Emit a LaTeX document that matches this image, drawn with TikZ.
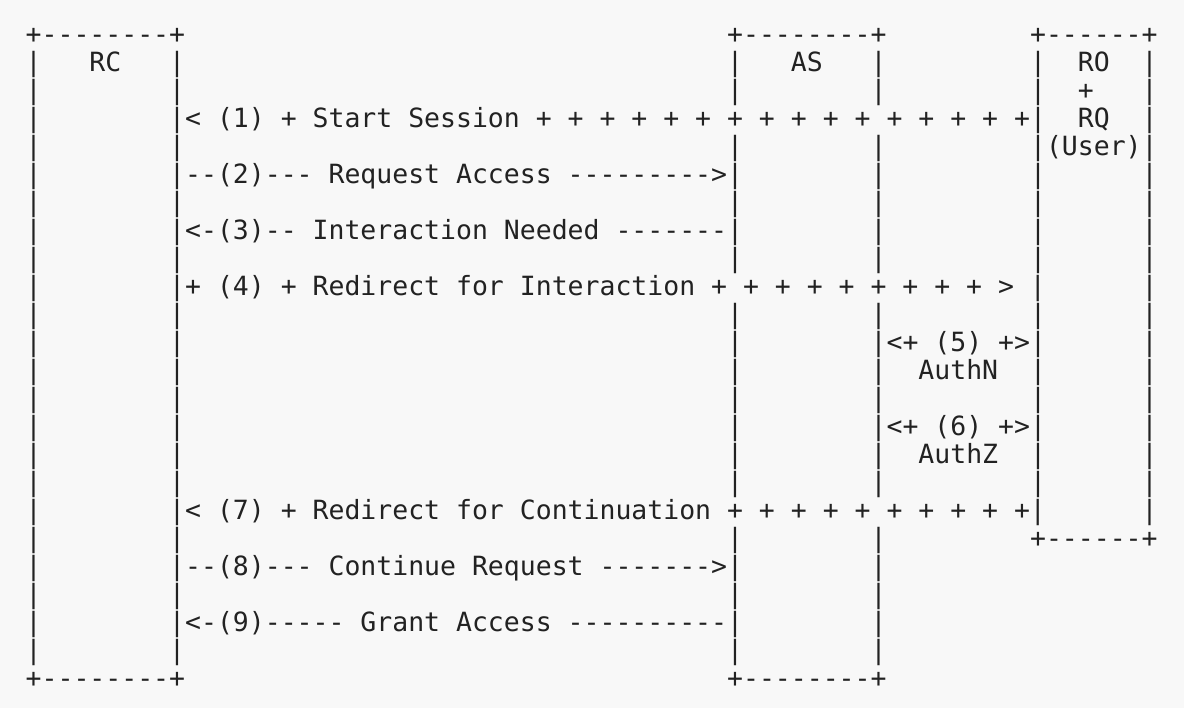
\documentclass[tikz,border=0pt]{standalone}
\usepackage{fontspec}
\setmonofont{DejaVu Sans Mono}
\definecolor{bgc}{RGB}{248,248,248}
\definecolor{fgc}{RGB}{34,34,34}
\newcommand\asciifont{\ttfamily\fontsize{13.24pt}{14pt}\selectfont}
\newcommand\Sp[1]{\hspace*{#1\fontcharwd\font`\x}}
\newcommand\Ebox{|\Sp{8}|}
\tikzset{
  ascii/.style={anchor=base west, inner sep=0pt, outer sep=0pt, text=fgc, font=\asciifont},
}
\begin{document}
\begin{tikzpicture}[x=0.5pt,y=-0.5pt]
\fill[bgc] (0,0) rectangle (1184,708);
\useasboundingbox (0,0) rectangle (1184,708);
\def\lx{25.7}
\node[ascii] (r0)  at (\lx, 43.6) {+--------+\Sp{34}+--------+\Sp{9}+------+};
\node[ascii] (r1)  at (\lx, 71.6) {|\Sp{3}RC\Sp{3}|\Sp{34}|\Sp{3}AS\Sp{3}|\Sp{9}|\Sp{2}RO\Sp{2}|};
\node[ascii] (r2)  at (\lx, 99.6) {\Ebox\Sp{34}\Ebox\Sp{9}|\Sp{2}+\Sp{3}|};
\node[ascii] (r3)  at (\lx,127.6) {\Ebox< (1) + Start Session + + + + + + + + + + + + + + + +|\Sp{2}RQ\Sp{2}|};
\node[ascii] (r4)  at (\lx,155.6) {\Ebox\Sp{34}\Ebox\Sp{9}|(User)|};
\node[ascii] (r5)  at (\lx,183.6) {\Ebox--(2)--- Request Access --------->\Ebox\Sp{9}|\Sp{6}|};
\node[ascii] (r6)  at (\lx,211.6) {\Ebox\Sp{34}\Ebox\Sp{9}|\Sp{6}|};
\node[ascii] (r7)  at (\lx,239.6) {\Ebox<-(3)-- Interaction Needed -------\Ebox\Sp{9}|\Sp{6}|};
\node[ascii] (r8)  at (\lx,267.6) {\Ebox\Sp{34}\Ebox\Sp{9}|\Sp{6}|};
\node[ascii] (r9)  at (\lx,295.6) {\Ebox+ (4) + Redirect for Interaction + + + + + + + + + > |\Sp{6}|};
\node[ascii] (r10) at (\lx,323.6) {\Ebox\Sp{34}\Ebox\Sp{9}|\Sp{6}|};
\node[ascii] (r11) at (\lx,351.6) {\Ebox\Sp{34}|\Sp{8}|<+ (5) +>|\Sp{6}|};
\node[ascii] (r12) at (\lx,379.6) {\Ebox\Sp{34}\Ebox\Sp{2}AuthN\Sp{2}|\Sp{6}|};
\node[ascii] (r13) at (\lx,407.6) {\Ebox\Sp{34}\Ebox\Sp{9}|\Sp{6}|};
\node[ascii] (r14) at (\lx,435.6) {\Ebox\Sp{34}|\Sp{8}|<+ (6) +>|\Sp{6}|};
\node[ascii] (r15) at (\lx,463.6) {\Ebox\Sp{34}\Ebox\Sp{2}AuthZ\Sp{2}|\Sp{6}|};
\node[ascii] (r16) at (\lx,491.6) {\Ebox\Sp{34}\Ebox\Sp{9}|\Sp{6}|};
\node[ascii] (r17) at (\lx,519.6) {\Ebox< (7) + Redirect for Continuation + + + + + + + + + +|\Sp{6}|};
\node[ascii] (r18) at (\lx,547.6) {\Ebox\Sp{34}\Ebox\Sp{9}+------+};
\node[ascii] (r19) at (\lx,575.6) {\Ebox--(8)--- Continue Request ------->\Ebox};
\node[ascii] (r20) at (\lx,603.6) {\Ebox\Sp{34}\Ebox};
\node[ascii] (r21) at (\lx,631.6) {\Ebox<-(9)----- Grant Access ----------\Ebox};
\node[ascii] (r22) at (\lx,659.6) {\Ebox\Sp{34}\Ebox};
\node[ascii] (r23) at (\lx,687.6) {+--------+\Sp{34}+--------+};
\end{tikzpicture}
\end{document}
